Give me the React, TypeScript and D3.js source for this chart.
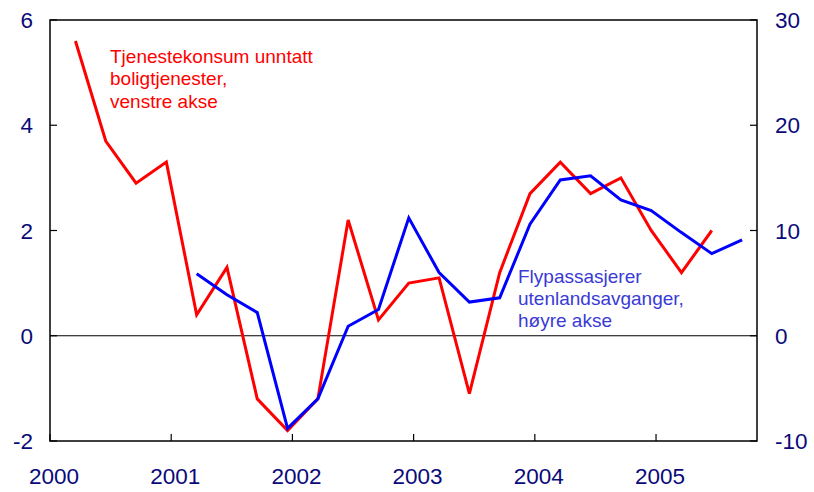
import React from "react";
import * as d3 from "d3";

const quarters: string[] = [
  "2000K1","2000K2","2000K3","2000K4",
  "2001K1","2001K2","2001K3","2001K4",
  "2002K1","2002K2","2002K3","2002K4",
  "2003K1","2003K2","2003K3","2003K4",
  "2004K1","2004K2","2004K3","2004K4",
  "2005K1","2005K2","2005K3",
];

// Tjenestekonsum unntatt boligtjenester (left axis), 2000K1–2005K2
const tjenestekonsum: number[] = [
  5.6, 3.7, 2.9, 3.3, 0.4, 1.3, -1.2, -1.8, -1.2, 2.2, 0.3,
  1.0, 1.1, -1.1, 1.2, 2.7, 3.3, 2.7, 3.0, 2.0, 1.2, 2.0,
];
// Flypassasjerer utenlandsavganger (right axis), 2001K1–2005K3
const flypassasjerer: number[] = [
  5.9, 3.9, 2.2, -8.8, -6.0, 0.9, 2.5, 11.2, 6.0, 3.2,
  3.6, 10.6, 14.8, 15.2, 12.9, 11.9, 9.8, 7.8, 9.1,
];
const flyStartIndex = 4;

const yearTicks: number[] = [2000, 2001, 2002, 2003, 2004, 2005];
const leftTicks: number[] = [-2, 0, 2, 4, 6];
const rightTicks: number[] = [-10, 0, 10, 20, 30];

const redLabel: string[] = ["Tjenestekonsum unntatt", "boligtjenester,", "venstre akse"];
const blueLabel: string[] = ["Flypassasjerer", "utenlandsavganger,", "høyre akse"];

const W = 814;
const H = 492;
const M = { left: 50, right: 757, top: 20, bottom: 441 };
const FONT = "'Liberation Sans', Arial, sans-serif";
const AXIS_COLOR = "#0a0a7a";

function quarterToYear(q: string): number {
  const y = +q.slice(0, 4);
  const k = +q.slice(5);
  return y + (k - 1) * 0.25 + 0.21;
}

export default function App() {
  const x = d3.scaleLinear().domain([2000, 2005.833]).range([M.left, M.right]);
  const yL = d3.scaleLinear().domain([-2, 6]).range([M.bottom, M.top]);
  const yR = d3.scaleLinear().domain([-10, 30]).range([M.bottom, M.top]);

  const redData = tjenestekonsum.map((v, i) => ({ t: quarterToYear(quarters[i]), v }));
  const blueData = flypassasjerer.map((v, i) => ({ t: quarterToYear(quarters[i + flyStartIndex]), v }));

  const lineL = d3.line<{ t: number; v: number }>().x(d => x(d.t)).y(d => yL(d.v));
  const lineR = d3.line<{ t: number; v: number }>().x(d => x(d.t)).y(d => yR(d.v));

  return (
    <svg width={W} height={H} style={{ position: "absolute", left: 0, top: 0, background: "#fff" }}>
      <rect x={0} y={0} width={W} height={H} fill="#fff" />
      {/* zero line */}
      <line x1={M.left} x2={M.right} y1={yL(0)} y2={yL(0)} stroke="#000" strokeWidth={1} />
      {/* frame */}
      <rect x={M.left} y={M.top} width={M.right - M.left} height={M.bottom - M.top} fill="none" stroke="#000" strokeWidth={1.5} />
      {/* left ticks */}
      {leftTicks.map(t => (
        <g key={"l" + t}>
          <line x1={M.left} x2={M.left + 7} y1={yL(t)} y2={yL(t)} stroke="#000" strokeWidth={1.2} />
          <text x={33} y={yL(t)} dy="0.36em" textAnchor="end" fontFamily={FONT} fontSize={22.5} fill={AXIS_COLOR}>{t}</text>
        </g>
      ))}
      {/* right ticks */}
      {rightTicks.map(t => (
        <g key={"r" + t}>
          <line x1={M.right - 7} x2={M.right} y1={yR(t)} y2={yR(t)} stroke="#000" strokeWidth={1.2} />
          <text x={775} y={yR(t)} dy="0.36em" textAnchor="start" fontFamily={FONT} fontSize={22.5} fill={AXIS_COLOR}>{t}</text>
        </g>
      ))}
      {/* x ticks */}
      {yearTicks.map(t => (
        <g key={"x" + t}>
          <line x1={x(t)} x2={x(t)} y1={M.bottom} y2={M.bottom - 7} stroke="#000" strokeWidth={1.2} />
          <text x={x(t) + 4} y={484} textAnchor="middle" fontFamily={FONT} fontSize={22.5} fill={AXIS_COLOR}>{t}</text>
        </g>
      ))}
      {/* series */}
      <path d={lineL(redData) || ""} fill="none" stroke="#ff0000" strokeWidth={3} strokeLinejoin="miter" />
      <path d={lineR(blueData) || ""} fill="none" stroke="#0000ff" strokeWidth={3} strokeLinejoin="miter" />
      {/* annotations */}
      <text fontFamily={FONT} fontSize={19} fill="#ff0000">
        {redLabel.map((s, i) => (
          <tspan key={i} x={110} y={62.5 + i * 22.5}>{s}</tspan>
        ))}
      </text>
      <text fontFamily={FONT} fontSize={19} fill="#3a3ad6">
        {blueLabel.map((s, i) => (
          <tspan key={i} x={518} y={282.5 + i * 22.2}>{s}</tspan>
        ))}
      </text>
    </svg>
  );
}
